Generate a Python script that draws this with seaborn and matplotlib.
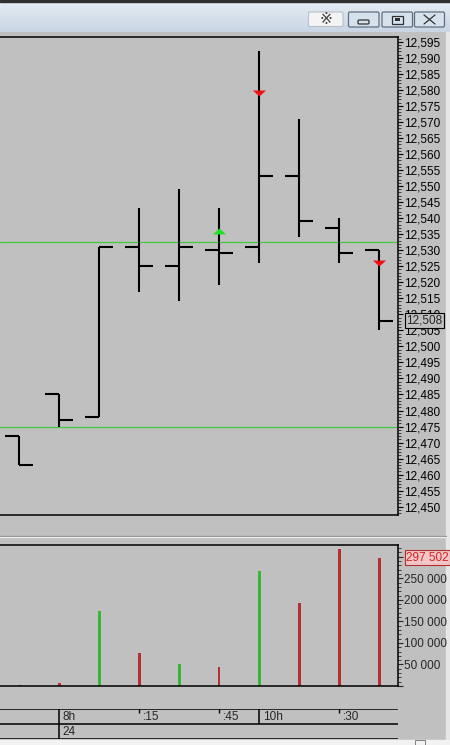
import numpy as np
import seaborn as sns
import matplotlib.pyplot as plt
import matplotlib.transforms as mtrans
from matplotlib.colors import LinearSegmentedColormap
from matplotlib.patches import Rectangle, FancyBboxPatch
from matplotlib.ticker import MultipleLocator, FuncFormatter

# Bar data (one bar per slot)
bar_idx = np.arange(10)
open_ = [12472, 12485, 12478, 12531, 12525, 12530, 12531, 12553, 12537, 12530]
high = [12472, 12485, 12531, 12543, 12549, 12543, 12592, 12571, 12540, 12530]
low = [12463, 12475, 12478, 12517, 12514, 12519, 12526, 12534, 12526, 12505]
close = [12463, 12477, 12531, 12525, 12531, 12529, 12553, 12539, 12529, 12508]
volume = [3000, 6000, 174700, 75600, 50000, 44400, 267700, 191900, 317400, 297502]

# Horizontal levels and signal arrows
levels = [12532.5, 12475]
buy_idx, buy_price = [5], [12536.1]
sell_idx, sell_price = [6, 9], [12579.0, 12526.1]

last_price = 12508
last_volume = 297502

# time axis
time_ticks = [1, 3, 5, 6, 8]
time_labels = ['8h', ':15', ':45', '10h', ':30']
day_tick, day_label = 1, '24'

GRAY = '#c0c0c0'
UP = '#22cc22'
DOWN = '#cc1a1a'
LEVEL = '#44c844'

sns.set_style('white', rc={'axes.facecolor': GRAY, 'figure.facecolor': GRAY})
plt.rcParams['font.family'] = ['Liberation Sans', 'DejaVu Sans']

W, H = 450, 745
fig = plt.figure(figsize=(W / 100, H / 100), dpi=100)


def box(l, t, r, b):
    return [l / W, 1 - b / H, (r - l) / W, (b - t) / H]


# background / window chrome in pixel coords
ax_bg = fig.add_axes([0, 0, 1, 1], zorder=0)
grad = np.linspace(0, 1, 64).reshape(-1, 1)
cm = LinearSegmentedColormap.from_list('title', ['#e4ebf3', '#c9d5e3'])
ax_bg.imshow(grad, extent=(0, W, 32, 2), aspect='auto', cmap=cm)
ax_bg.add_patch(Rectangle((0, 0), W, 2, color='#303030'))
ax_bg.add_patch(Rectangle((446, 32), 4, 708, color='#e6e6e6'))
ax_bg.add_patch(Rectangle((0, 740), W, 5, color='#f2f2f2'))
ax_bg.add_patch(Rectangle((415, 740), 10, 5, fc='none', ec='#808080', lw=0.7))
ax_bg.plot([0, 446], [535.5, 535.5], color='#8c8c8c', lw=0.9)
ax_bg.plot([0, 446], [537.2, 537.2], color='#f0f0f0', lw=0.9)

# title bar buttons
ax_bg.add_patch(FancyBboxPatch((308.5, 12), 34.5, 14.5, boxstyle='round,pad=0,rounding_size=1.5',
                               fc='#f4f4f4', ec='#b8c0c8', lw=0.8))
ax_bg.text(325.7, 19.5, '※', ha='center', va='center', fontsize=11, color='#404040',
           family='DejaVu Sans')
for l, r in [(348.5, 379), (382, 412.5), (414.5, 444.5)]:
    ax_bg.add_patch(FancyBboxPatch((l, 12), r - l, 15, boxstyle='round,pad=0,rounding_size=1.5',
                                   fc='#d6e1ee', ec='#5f6f80', lw=0.9))
ax_bg.add_patch(FancyBboxPatch((358, 20), 11, 4, boxstyle='round,pad=0,rounding_size=1.2',
                               fc='none', ec='#303030', lw=0.9))
ax_bg.add_patch(Rectangle((392, 15.5), 11, 8, fc='none', ec='#303030', lw=0.9))
ax_bg.add_patch(Rectangle((395, 18), 5, 3, fc='#303030', ec='none'))
ax_bg.plot([424, 435], [15, 24], color='#303030', lw=0.9)
ax_bg.plot([424, 435], [24, 15], color='#303030', lw=0.9)
ax_bg.set_xlim(0, W)
ax_bg.set_ylim(H, 0)
ax_bg.axis('off')

xlim = (-0.475, 9.475)

# ---- price panel ----
ax_p = fig.add_axes(box(0, 37, 398, 515.3), zorder=1)
ax_p.vlines(bar_idx, low, high, color='black', lw=1.5)
ax_p.hlines(open_, bar_idx - 0.35, bar_idx, color='black', lw=1.5)
ax_p.hlines(close, bar_idx, bar_idx + 0.35, color='black', lw=1.5)
for lv in levels:
    ax_p.axhline(lv, color=LEVEL, lw=0.9, zorder=1)
tri_up = [(-1, -0.45), (1, -0.45), (0, 0.45)]
tri_dn = [(-1, 0.45), (1, 0.45), (0, -0.45)]
ax_p.scatter(buy_idx, buy_price, marker=tri_up, s=90, color='#22dd22', lw=0, zorder=4)
ax_p.scatter(sell_idx, sell_price, marker=tri_dn, s=90, color='#ee1111', lw=0, zorder=4)
ax_p.set_xlim(*xlim)
ax_p.set_ylim(12447.32, 12596.47)
ax_p.set_xticks([])
ax_p.yaxis.tick_right()
ax_p.yaxis.set_major_locator(MultipleLocator(5))
ax_p.yaxis.set_minor_locator(MultipleLocator(1))
ax_p.yaxis.set_major_formatter(FuncFormatter(lambda v, p: f'{v:,.0f}'))
ax_p.tick_params(axis='y', which='major', length=3.6, width=0.8, pad=0.8, labelsize=8.5,
                 colors='black', right=True)
ax_p.tick_params(axis='y', which='minor', length=1.8, width=0.6, right=True)
ax_p.spines['left'].set_visible(False)
for s in ['top', 'bottom', 'right']:
    ax_p.spines[s].set_color('black')
    ax_p.spines[s].set_linewidth(1.1)
tr_p = mtrans.blended_transform_factory(ax_p.transAxes, ax_p.transData)
ax_p.text(1.02, last_price, f'{last_price:,}', transform=tr_p, va='center', ha='left',
          fontsize=8.5, zorder=6,
          bbox=dict(boxstyle='square,pad=0.12', fc=GRAY, ec='black', lw=0.8))

# ---- volume panel ----
ax_v = fig.add_axes(box(0, 545, 398, 686), zorder=1)
vol_dir = ['up' if c > o else 'down' for o, c in zip(open_, close)]
sns.barplot(x=bar_idx, y=volume, hue=vol_dir, palette={'up': UP, 'down': DOWN},
            width=0.075, dodge=False, legend=False, linewidth=0, ax=ax_v)
ax_v.set_xlim(*xlim)
ax_v.set_ylim(0, 327400)
ax_v.set_xticks([])
ax_v.set_xlabel('')
ax_v.set_ylabel('')
ax_v.yaxis.tick_right()
ax_v.yaxis.set_major_locator(MultipleLocator(50000))
ax_v.yaxis.set_minor_locator(MultipleLocator(10000))
ax_v.yaxis.set_major_formatter(FuncFormatter(
    lambda v, p: f'{v:,.0f}'.replace(',', ' ') if 0 < v < 260000 else ''))
ax_v.tick_params(axis='y', which='major', length=3.6, width=0.8, pad=0.8, labelsize=8.5,
                 right=True)
ax_v.tick_params(axis='y', which='minor', length=1.8, width=0.6, right=True)
ax_v.spines['left'].set_visible(False)
for s in ['top', 'bottom', 'right']:
    ax_v.spines[s].set_color('black')
    ax_v.spines[s].set_linewidth(1.1)
tr_v = mtrans.blended_transform_factory(ax_v.transAxes, ax_v.transData)
ax_v.text(1.02, last_volume, f'{last_volume:,}'.replace(',', ' '), transform=tr_v,
          va='center', ha='left', fontsize=8.5, color='#d42020', zorder=6,
          bbox=dict(boxstyle='square,pad=0.12', fc='#f2c6c6', ec='#b03030', lw=0.8))

# ---- time axis ----
ax_t = fig.add_axes(box(0, 709, 398, 739), zorder=1)
ax_t.set_xlim(*xlim)
ax_t.set_ylim(0, 2)
ax_t.hlines([0, 1, 2], xlim[0], xlim[1], color='black', lw=1.1)
ax_t.vlines(day_tick, 0, 2, color='black', lw=1.1)
for t, lab in zip(time_ticks, time_labels):
    if lab.endswith('h') and t != day_tick:
        ax_t.vlines(t, 1, 2, color='black', lw=1.1)
    elif not lab.endswith('h'):
        ax_t.vlines(t, 1.72, 2, color='black', lw=1.0)
    ax_t.text(t + 0.09, 1.45, lab, va='center', ha='left', fontsize=8.5)
ax_t.text(day_tick + 0.09, 0.48, day_label, va='center', ha='left', fontsize=8.5)
ax_t.axis('off')

fig.savefig('out.png', dpi=100, facecolor=GRAY)
